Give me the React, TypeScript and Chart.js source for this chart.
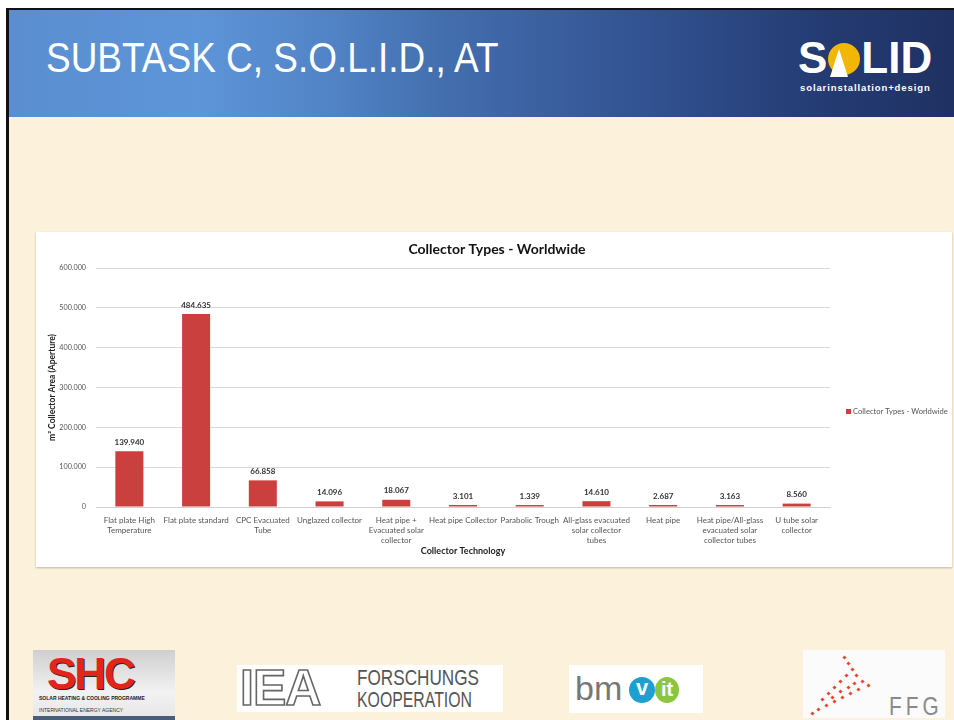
import React, { useEffect, useRef } from "react";
import { Chart, registerables } from "chart.js";

Chart.register(...registerables);

const categories: string[][] = [
  ["Flat plate High", "Temperature"],
  ["Flat plate standard"],
  ["CPC Evacuated", "Tube"],
  ["Unglazed collector"],
  ["Heat pipe +", "Evacuated solar", "collector"],
  ["Heat pipe Collector"],
  ["Parabolic Trough"],
  ["All-glass evacuated", "solar collector", "tubes"],
  ["Heat pipe"],
  ["Heat pipe/All-glass", "evacuated solar", "collector tubes"],
  ["U tube solar", "collector"],
];
const values: number[] = [139940, 484635, 66858, 14096, 18067, 3101, 1339, 14610, 2687, 3163, 8560];
const seriesName = "Collector Types - Worldwide";
const chartTitle = "Collector Types - Worldwide";
const xTitle = "Collector Technology";
const yTitle = "m² Collector Area (Aperture)";
const yMin = 0;
const yMax = 600000;
const yStep = 100000;

const BAR = "#C9403E";
const FONT = "Lato, 'Open Sans', sans-serif";

function fmt(n: number): string {
  return String(Math.round(n)).replace(/\B(?=(\d{3})+(?!\d))/g, ".");
}

const labelPlugin = {
  id: "barLabels",
  afterDatasetsDraw(chart: any) {
    const ctx = chart.ctx;
    const meta = chart.getDatasetMeta(0);
    ctx.save();
    ctx.font = `bold 8px ${FONT}`;
    ctx.fillStyle = "#333";
    ctx.textAlign = "center";
    ctx.textBaseline = "bottom";
    meta.data.forEach((el: any, i: number) => {
      ctx.fillText(fmt(values[i]), el.x, el.y - 5);
    });
    ctx.restore();
  },
};

const titleLegendPlugin = {
  id: "titleAndLegend",
  afterDraw(chart: any) {
    const ctx = chart.ctx;
    const a = chart.chartArea;
    ctx.save();
    // chart title, centred on the whole chart box
    ctx.font = `bold 14px ${FONT}`;
    ctx.fillStyle = "#111";
    ctx.textAlign = "center";
    ctx.textBaseline = "middle";
    ctx.fillText(chartTitle, chart.width / 2 + 3, 17);
    // legend on the right
    const x = a.right + 16;
    const y = (a.top + a.bottom) / 2 + 24;
    ctx.fillStyle = BAR;
    ctx.fillRect(x, y - 2.5, 5, 5);
    ctx.font = `7.6px ${FONT}`;
    ctx.fillStyle = "#555";
    ctx.textAlign = "left";
    ctx.fillText(seriesName, x + 7, y);
    ctx.restore();
  },
};

function ChartBox() {
  const ref = useRef<HTMLCanvasElement | null>(null);
  useEffect(() => {
    if (!ref.current) return;
    const chart = new Chart(ref.current, {
      type: "bar",
      data: {
        labels: categories,
        datasets: [
          {
            label: seriesName,
            data: values,
            backgroundColor: BAR,
            categoryPercentage: 1,
            barPercentage: 0.42,
            minBarLength: 2,
          },
        ],
      },
      options: {
        animation: false,
        responsive: false,
        devicePixelRatio: 1,
        layout: { padding: { left: 5, right: 122, top: 36, bottom: 6 } },
        plugins: {
          legend: { display: false },
          tooltip: { enabled: false },
          title: { display: false },
        },
        scales: {
          x: {
            grid: { display: false },
            border: { display: true, color: "#D0D0D0" },
            ticks: {
              color: "#555",
              font: { family: FONT, size: 8, lineHeight: 1.25 },
              padding: 0,
              maxRotation: 0,
              autoSkip: false,
            },
            title: {
              display: true,
              text: xTitle,
              color: "#222",
              font: { family: FONT, size: 9, weight: "bold" },
              padding: { top: 2, bottom: 5 },
            },
            afterFit: (s: any) => {
              s.height = 54;
            },
          },
          y: {
            min: yMin,
            max: yMax,
            grid: { color: "#DADADA", drawTicks: false },
            border: { display: false },
            ticks: {
              stepSize: yStep,
              color: "#555",
              font: { family: FONT, size: 7.2 },
              padding: 10,
              callback: (v: any) => fmt(Number(v)),
            },
            title: {
              display: true,
              text: yTitle,
              color: "#222",
              font: { family: FONT, size: 8.5, weight: "bold" },
              padding: { top: 6, bottom: 1 },
            },
            afterFit: (s: any) => {
              s.width = 55;
            },
          },
        },
      },
      plugins: [labelPlugin, titleLegendPlugin],
    } as any);
    return () => chart.destroy();
  }, []);
  return <canvas ref={ref} width={916} height={335} style={{ display: "block", width: 916, height: 335 }} />;
}

export default function App() {
  useEffect(() => {
    document.body.style.margin = "0";
  }, []);
  const abs = (s: React.CSSProperties): React.CSSProperties => ({ position: "absolute", ...s });
  return (
    <div style={{ position: "fixed", left: 0, top: 0, width: 954, height: 720, background: "#fff", overflow: "hidden", fontFamily: "'Liberation Sans', Arial, sans-serif" }}>
      <div style={abs({ left: 6, top: 8, width: 948, height: 712, background: "#111" })} />
      <div style={abs({ left: 9, top: 10, width: 945, height: 710, background: "#FCF1DA" })} />
      {/* header */}
      <div
        style={abs({
          left: 9,
          top: 10,
          width: 945,
          height: 107,
          background: "linear-gradient(90deg, #5A8ED0 0%, #5D95D8 20%, #5285C8 33%, #4470B0 45%, #3A5E9E 58%, #2E4C8A 72%, #243B73 86%, #1F3162 100%)",
        })}
      />
      <div
        style={abs({
          left: 46,
          top: 37,
          fontSize: 42,
          lineHeight: "42px",
          color: "#fff",
          whiteSpace: "nowrap",
          transform: "scaleX(0.88)",
          transformOrigin: "left top",
        })}
      >
        SUBTASK C, S.O.L.I.D., AT
      </div>
      {/* SOLID logo */}
      <div style={abs({ left: 798, top: 36, height: 44, display: "flex", alignItems: "center", color: "#fff", fontWeight: "bold", fontSize: 44, lineHeight: "44px" })}>
        <span>S</span>
        <span style={{ position: "relative", display: "inline-block", width: 32, height: 32, margin: "2px 1px 0 1px" }}>
          <span style={{ position: "absolute", left: 0, top: 0, width: 32, height: 32, borderRadius: "50%", background: "#F2B705" }} />
          <span style={{ position: "absolute", left: 2, top: 6, width: 0, height: 0, borderLeft: "9px solid transparent", borderRight: "9px solid transparent", borderBottom: "28px solid #fff" }} />
        </span>
        <span>LID</span>
      </div>
      <div style={abs({ left: 800, top: 82, fontSize: 9.5, fontWeight: "bold", color: "#fff", letterSpacing: 0.9, whiteSpace: "nowrap" })}>
        solarinstallation+design
      </div>

      {/* chart box */}
      <div style={abs({ left: 36, top: 232, width: 916, height: 335, background: "#fff", boxShadow: "0 1px 2px rgba(0,0,0,0.25)" })}>
        <ChartBox />
      </div>

      {/* logos */}
      <div style={abs({ left: 33, top: 650, width: 142, height: 70, background: "linear-gradient(180deg, #CFCFCF, #F2F2F2 60%, #E6E6E6)" })}>
        <div style={abs({ left: 14, top: 2, fontSize: 44, fontWeight: "bold", color: "#E3241B", letterSpacing: -2, lineHeight: "44px", textShadow: "1px 1px 0 #222" })}>SHC</div>
        <div style={abs({ left: 6, top: 45, fontSize: 5, fontWeight: "bold", color: "#222", whiteSpace: "nowrap" })}>SOLAR HEATING &amp; COOLING PROGRAMME</div>
        <div style={abs({ left: 6, top: 57, fontSize: 5, color: "#333", whiteSpace: "nowrap" })}>INTERNATIONAL ENERGY AGENCY</div>
        <div style={abs({ left: 0, top: 66, width: 142, height: 4, background: "#4A5C7A" })} />
      </div>
      <div style={abs({ left: 237, top: 665, width: 266, height: 47, background: "#fff" })}>
        <div style={abs({ left: 3, top: 0, fontSize: 50, lineHeight: "47px", fontWeight: "bold", color: "#fff", WebkitTextStroke: "1.6px #666", letterSpacing: -1 } as any)}>IEA</div>
        <div style={abs({ left: 120, top: 2, fontSize: 22, lineHeight: "22px", color: "#555", transform: "scaleX(0.78)", transformOrigin: "left top", whiteSpace: "nowrap" })}>FORSCHUNGS</div>
        <div style={abs({ left: 120, top: 24, fontSize: 22, lineHeight: "22px", color: "#555", transform: "scaleX(0.72)", transformOrigin: "left top", whiteSpace: "nowrap" })}>KOOPERATION</div>
      </div>
      <div style={abs({ left: 569, top: 665, width: 134, height: 48, background: "#fff" })}>
        <div style={abs({ left: 6, top: 6, fontSize: 34, lineHeight: "34px", color: "#777" })}>bm</div>
        <div style={abs({ left: 60, top: 12, width: 26, height: 26, borderRadius: "50%", background: "#1E9FD2", color: "#fff", fontSize: 22, lineHeight: "22px", textAlign: "center", fontWeight: "bold" })}>v</div>
        <div style={abs({ left: 86, top: 12, width: 24, height: 26, borderRadius: "50%", background: "#8CC63F", color: "#fff", fontSize: 20, lineHeight: "24px", textAlign: "center", fontWeight: "bold" })}>it</div>
      </div>
      <div style={abs({ left: 803, top: 650, width: 142, height: 68, background: "#FBFBFB" })}>
        <svg width={80} height={68} style={{ position: "absolute", left: 0, top: 0 }}>
          {[
            [40, 6], [44, 12], [48, 18], [52, 24], [58, 30], [64, 34], [54, 38], [46, 42], [38, 46], [30, 50], [22, 54], [14, 58], [8, 62],
            [42, 24], [36, 30], [30, 36], [24, 42], [18, 48], [50, 32], [44, 36], [36, 40], [28, 46],
          ].map(([x, y], i) => (
            <rect key={i} x={x} y={y} width={3} height={3} fill="#E8492E" transform={`rotate(45 ${x + 1.5} ${y + 1.5})`} />
          ))}
        </svg>
        <div style={abs({ left: 86, top: 43, fontSize: 26, lineHeight: "26px", color: "#8A8A8A", letterSpacing: 5, transform: "scaleX(0.8)", transformOrigin: "left top" })}>FFG</div>
      </div>
    </div>
  );
}
